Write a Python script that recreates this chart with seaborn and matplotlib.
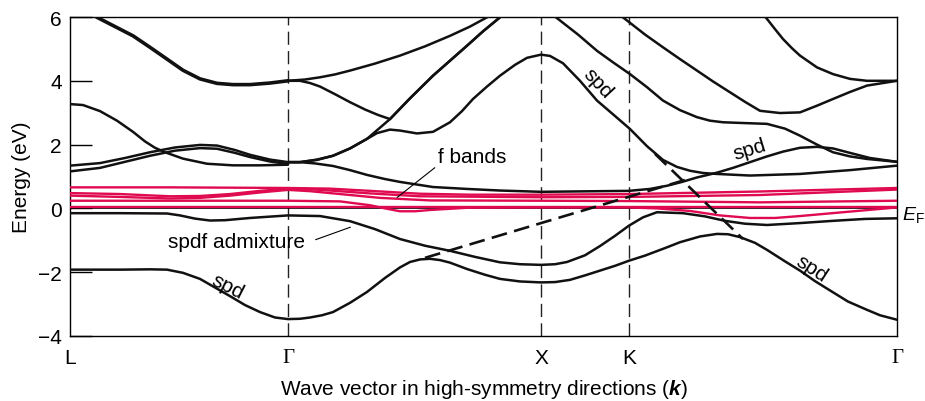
import numpy as np
import pandas as pd
import matplotlib
matplotlib.use("Agg")
import matplotlib.pyplot as plt
import seaborn as sns

sns.set_style("ticks")
plt.rcParams["font.family"] = ["Liberation Sans", "DejaVu Sans"]
plt.rcParams["mathtext.fontset"] = "custom"
plt.rcParams["mathtext.rm"] = "Liberation Sans"
plt.rcParams["mathtext.it"] = "Liberation Sans:italic"
plt.rcParams["mathtext.bf"] = "Liberation Sans:italic:bold"
plt.rcParams["text.color"] = "black"
plt.rcParams["axes.labelcolor"] = "black"
plt.rcParams["xtick.color"] = "black"
plt.rcParams["ytick.color"] = "black"

# ---------------- data (k = distance along the path, arbitrary units; energy in eV) ----------------
sym_labels = ["L", "Γ", "X", "K", "Γ"]
sym_k = [0, 218, 471, 559, 827]

# black (spd) bands
band_a_k = [0, 50, 80, 97, 113, 130, 145, 160, 175, 190, 205, 218, 230, 240, 252, 263, 280, 297, 315, 330,
            340, 350, 360, 370, 380, 397, 415, 430, 450, 471, 485, 500, 515, 530, 545, 559, 575, 597, 610,
            630, 647, 658, 670, 685, 697, 715, 730, 745, 763, 778, 797, 810, 827]
band_a_e = [-1.92, -1.92, -1.91, -1.92, -2.02, -2.21, -2.48, -2.75, -3.03, -3.25, -3.42, -3.47, -3.46, -3.42,
            -3.35, -3.25, -2.96, -2.62, -2.18, -1.85, -1.68, -1.60, -1.58, -1.62, -1.70, -1.90, -2.08, -2.21,
            -2.29, -2.32, -2.31, -2.24, -2.10, -1.95, -1.80, -1.64, -1.48, -1.22, -1.06, -0.88, -0.80, -0.81,
            -0.90, -1.08, -1.30, -1.66, -1.95, -2.28, -2.63, -2.92, -3.18, -3.35, -3.49]

band_b_k = [0, 50, 97, 110, 125, 140, 155, 180, 218, 250, 280, 305, 330, 355, 380, 405, 430, 450, 471, 485,
            497, 515, 530, 545, 559, 573, 587, 613, 635, 655, 675, 697, 730, 763, 795, 827]
band_b_e = [-0.15, -0.15, -0.16, -0.22, -0.32, -0.38, -0.37, -0.30, -0.22, -0.24, -0.40, -0.65, -0.96, -1.17,
            -1.33, -1.52, -1.69, -1.75, -1.77, -1.75, -1.68, -1.47, -1.18, -0.86, -0.54, -0.28, -0.12, -0.15,
            -0.25, -0.39, -0.48, -0.52, -0.46, -0.39, -0.33, -0.31]

band_c_k = [218, 230, 245, 263, 280, 297, 315, 330, 363, 397, 430, 471, 530, 559, 580, 597, 612, 627, 647,
            663, 680, 697, 713, 730, 747, 763, 780, 800, 827]
band_c_e = [1.45, 1.45, 1.41, 1.33, 1.20, 1.05, 0.92, 0.83, 0.67, 0.61, 0.56, 0.52, 0.54, 0.55, 0.61, 0.71,
            0.83, 0.97, 1.12, 1.27, 1.45, 1.63, 1.78, 1.90, 1.93, 1.88, 1.74, 1.58, 1.46]

band_x_k = [218, 230, 247, 263, 280, 297, 307, 320, 330, 347, 363, 380, 392, 403, 417, 430, 445, 457, 471,
            480, 493, 510, 527, 543, 560, 577, 593, 607, 620, 633, 647, 680, 730, 780, 827]
band_x_e = [1.45, 1.45, 1.53, 1.65, 1.88, 2.18, 2.36, 2.47, 2.44, 2.35, 2.40, 2.70, 3.05, 3.43, 3.82, 4.16,
            4.50, 4.72, 4.82, 4.78, 4.55, 4.00, 3.38, 2.95, 2.49, 1.95, 1.52, 1.30, 1.18, 1.11, 1.08, 1.03,
            1.08, 1.20, 1.34]

band_t1_k = [218, 230, 247, 263, 280, 297, 320, 340, 363, 380, 397, 413, 430, 440]
band_t1_e = [1.45, 1.45, 1.52, 1.65, 1.88, 2.18, 2.80, 3.45, 4.16, 4.63, 5.10, 5.55, 5.99, 6.27]

band_t3_k = [218, 230, 240, 250, 265, 280, 295, 308, 320, 340, 363, 380, 397, 413, 430, 440]
band_t3_e = [4.00, 4.00, 3.93, 3.82, 3.58, 3.33, 3.10, 2.93, 2.80, 3.45, 4.16, 4.63, 5.10, 5.55, 5.99, 6.27]

band_t4_k = [218, 235, 250, 265, 280, 305, 330, 355, 380, 400, 417, 427]
band_t4_e = [4.00, 4.04, 4.11, 4.20, 4.32, 4.54, 4.79, 5.08, 5.41, 5.70, 5.99, 6.15]

band_u_k = [15, 27, 45, 63, 80, 97, 113, 130, 147, 163, 180, 200, 218]
band_u_e = [6.23, 5.99, 5.70, 5.41, 5.05, 4.68, 4.33, 4.06, 3.92, 3.88, 3.88, 3.93, 4.00]

band_l3_k = [0, 13, 30, 47, 63, 75, 85, 95, 113, 137, 163, 190, 218]
band_l3_e = [3.27, 3.24, 3.05, 2.75, 2.40, 2.10, 1.90, 1.76, 1.56, 1.40, 1.35, 1.35, 1.37]

band_d_k = [0, 30, 55, 80, 105, 130, 147, 165, 180, 200, 218]
band_d1_e = [1.34, 1.42, 1.58, 1.76, 1.91, 1.99, 1.97, 1.83, 1.68, 1.53, 1.45]
band_d2_e = [1.16, 1.27, 1.46, 1.65, 1.81, 1.89, 1.87, 1.74, 1.61, 1.47, 1.39]

band_e2_k = [482, 488, 508, 527, 543, 560, 577, 593, 610, 627, 640, 653, 670, 697, 715, 730, 747, 763,
             780, 797, 827]
band_e2_e = [6.08, 5.94, 5.45, 4.94, 4.58, 4.21, 3.80, 3.38, 3.08, 2.86, 2.75, 2.70, 2.68, 2.65, 2.50,
             2.28, 2.00, 1.76, 1.63, 1.55, 1.46]

band_e3_k = [549, 555, 575, 593, 610, 627, 643, 660, 675, 690, 710, 730, 747, 763, 780, 797, 827]
band_e3_e = [6.08, 5.94, 5.45, 5.05, 4.68, 4.32, 3.98, 3.64, 3.34, 3.06, 2.99, 3.01, 3.22, 3.43, 3.65,
             3.85, 4.00]

band_e4_k = [693, 697, 705, 713, 722, 730, 747, 763, 780, 797, 827]
band_e4_e = [6.09, 5.94, 5.62, 5.31, 5.02, 4.79, 4.42, 4.21, 4.06, 4.00, 4.00]

# dashed (unhybridised spd) segments
dash1_k = [355, 617]
dash1_e = [-1.55, 0.91]
dash2_k = [585, 673]
dash2_e = [1.71, -0.96]

# red f bands
f1_k = [0, 100, 218, 260, 300, 350, 400, 471, 559, 690, 827]
f1_e = [0.66, 0.66, 0.64, 0.62, 0.55, 0.46, 0.43, 0.43, 0.45, 0.53, 0.64]
f2_k = [0, 50, 100, 130, 160, 190, 218, 240, 260, 300, 350, 471, 559, 690, 827]
f2_e = [0.48, 0.45, 0.38, 0.39, 0.45, 0.55, 0.62, 0.60, 0.56, 0.47, 0.38, 0.35, 0.36, 0.42, 0.59]
f3_k = [0, 50, 100, 130, 160, 190, 218, 240, 260, 310, 360, 471, 559, 690, 827]
f3_e = [0.40, 0.36, 0.31, 0.33, 0.40, 0.50, 0.58, 0.54, 0.48, 0.33, 0.25, 0.24, 0.23, 0.19, 0.24]
f4_k = [0, 218, 270, 300, 315, 330, 345, 360, 397, 471, 559, 587, 620, 650, 680, 705, 730, 780, 827]
f4_e = [0.24, 0.24, 0.22, 0.10, 0.00, -0.09, -0.09, -0.05, 0.02, 0.03, 0.03, 0.00, -0.08, -0.22, -0.30,
        -0.30, -0.24, -0.10, 0.03]
f5_k = [0, 827]
f5_e = [0.03, 0.03]

# ---------------- figure ----------------
BLACK = "#111111"
RED = "#E00A50"

fig = plt.figure(figsize=(9.25, 4.02), dpi=100)
ax = fig.add_axes([70 / 925, 1 - 337 / 402, 827 / 925, 319 / 402])


def draw(k, e, color, lw, ls=None, z=3):
    df = pd.DataFrame({"k": k, "E": e})
    sns.lineplot(data=df, x="k", y="E", ax=ax, color=color, lw=lw, sort=False,
                 estimator=None, legend=False, zorder=z)
    line = ax.lines[-1]
    if ls is not None:
        line.set_linestyle(ls)
    line.set_solid_capstyle("round")
    line.set_solid_joinstyle("round")


# symmetry guide lines
for kk in sym_k[1:4]:
    ax.axvline(kk, color="#222222", lw=1.0, ls=(0, (9.5, 4.5)), zorder=1)

# Fermi level
ax.axhline(0, color="black", lw=1.2, zorder=2)

# f bands
for kk, ee in [(f1_k, f1_e), (f2_k, f2_e), (f3_k, f3_e), (f4_k, f4_e), (f5_k, f5_e)]:
    draw(kk, ee, RED, 1.7, z=3)

# spd bands
lw = 1.8
for kk, ee in [(band_a_k, band_a_e), (band_b_k, band_b_e), (band_c_k, band_c_e),
               (band_x_k, band_x_e), (band_t1_k, band_t1_e), (band_t3_k, band_t3_e),
               (band_t4_k, band_t4_e), (band_l3_k, band_l3_e),
               (band_d_k, band_d1_e), (band_d_k, band_d2_e),
               (band_e2_k, band_e2_e), (band_e3_k, band_e3_e), (band_e4_k, band_e4_e)]:
    draw(kk, ee, BLACK, lw, z=4)
draw(band_u_k, band_u_e, BLACK, 2.6, z=4)

draw(dash1_k, dash1_e, BLACK, 1.9, ls=(0, (6, 2.8)), z=4)
draw(dash2_k, dash2_e, BLACK, 1.9, ls=(0, (6, 2.8)), z=4)

# axes styling
ax.set_xlim(0, 827)
ax.set_ylim(-4, 6)
ax.set_yticks([-4, -2, 0, 2, 4, 6])
ax.set_xticks(sym_k)
ax.set_xticklabels(sym_labels)
for lbl in ax.get_xticklabels():
    if lbl.get_text() == "Γ":
        lbl.set_fontfamily(["Liberation Serif", "DejaVu Serif"])
ax.tick_params(axis="y", direction="in", length=16, width=1, pad=6, labelsize=15, colors="black")
ax.tick_params(axis="x", length=0, pad=9, labelsize=15, colors="black")
for sp in ax.spines.values():
    sp.set_visible(True)
    sp.set_linewidth(1.0)
    sp.set_color("black")

ax.set_xlabel(r"Wave vector in high-symmetry directions ($\mathbf{k}$)", fontsize=15, labelpad=7)
ax.set_ylabel("Energy (eV)", fontsize=15, labelpad=5)

# annotations
ax.text(368, 1.64, "f bands", ha="left", va="center", fontsize=15, zorder=6)
ax.annotate("", xy=(325, 0.29), xytext=(367, 1.33),
            arrowprops=dict(arrowstyle="-", color="black", lw=0.8), zorder=6)
ax.text(235, -1.05, "spdf admixture", ha="right", va="center", fontsize=15, zorder=6)
ax.annotate("", xy=(283, -0.56), xytext=(243, -1.01),
            arrowprops=dict(arrowstyle="-", color="black", lw=0.8), zorder=6)

ax.text(158, -2.43, "spd", ha="center", va="center", fontsize=15, rotation=-27,
        rotation_mode="anchor", zorder=6)
ax.text(528, 3.93, "spd", ha="center", va="center", fontsize=15, rotation=-47,
        rotation_mode="anchor", zorder=6)
ax.text(680, 1.86, "spd", ha="center", va="center", fontsize=15, rotation=17,
        rotation_mode="anchor", zorder=6)
ax.text(742, -1.87, "spd", ha="center", va="center", fontsize=15, rotation=-33,
        rotation_mode="anchor", zorder=6)

ax.text(832, -0.18, r"$E_\mathrm{F}$", ha="left", va="center", fontsize=14, clip_on=False)

fig.savefig("out.png", dpi=100)
